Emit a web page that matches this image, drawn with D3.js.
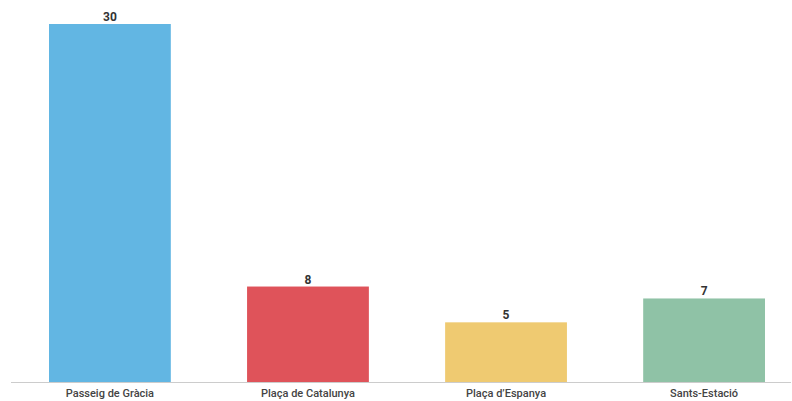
<!DOCTYPE html>
<html><head><meta charset="utf-8">
<script src="https://cdn.jsdelivr.net/npm/d3@7"></script>
<style>body{margin:0;background:#fff}svg{display:block}</style>
</head><body>
<script>
const categories = ["Passeig de Gràcia", "Plaça de Catalunya", "Plaça d’Espanya", "Sants-Estació"];
const values = [30, 8, 5, 7];
const colors = ["#62b6e3", "#df535a", "#efca71", "#8fc2a6"];

const W = 792, H = 401;
const svg = d3.select("body").append("svg").attr("width", W).attr("height", H);

const x = d3.scaleBand().domain(categories).range([49, 765]).paddingInner(0.385).paddingOuter(0);
const y = d3.scaleLinear().domain([0, 30]).range([382, 24]);

svg.selectAll("rect.bar").data(categories).join("rect")
  .attr("class", "bar")
  .attr("x", d => x(d))
  .attr("width", x.bandwidth())
  .attr("y", (d, i) => y(values[i]))
  .attr("height", (d, i) => y(0) - y(values[i]))
  .attr("fill", (d, i) => colors[i]);

svg.append("line").attr("x1", 11).attr("x2", 791).attr("y1", y(0) + 0.5).attr("y2", y(0) + 0.5)
  .attr("stroke", "#cccccc").attr("stroke-width", 1);

svg.selectAll("text.val").data(categories).join("text")
  .attr("class", "val")
  .attr("x", d => x(d) + x.bandwidth() / 2)
  .attr("y", (d, i) => y(values[i]) - 3)
  .attr("text-anchor", "middle")
  .attr("font-family", "Roboto, sans-serif")
  .attr("font-weight", "bold")
  .attr("font-size", "12px")
  .attr("fill", "#333")
  .text((d, i) => values[i]);

svg.selectAll("text.cat").data(categories).join("text")
  .attr("class", "cat")
  .attr("x", d => x(d) + x.bandwidth() / 2)
  .attr("y", 397)
  .attr("text-anchor", "middle")
  .attr("font-family", "Roboto, sans-serif")
  .attr("font-weight", 500)
  .attr("font-size", "11px")
  .attr("fill", "#444")
  .text(d => d);
</script>
</body></html>
